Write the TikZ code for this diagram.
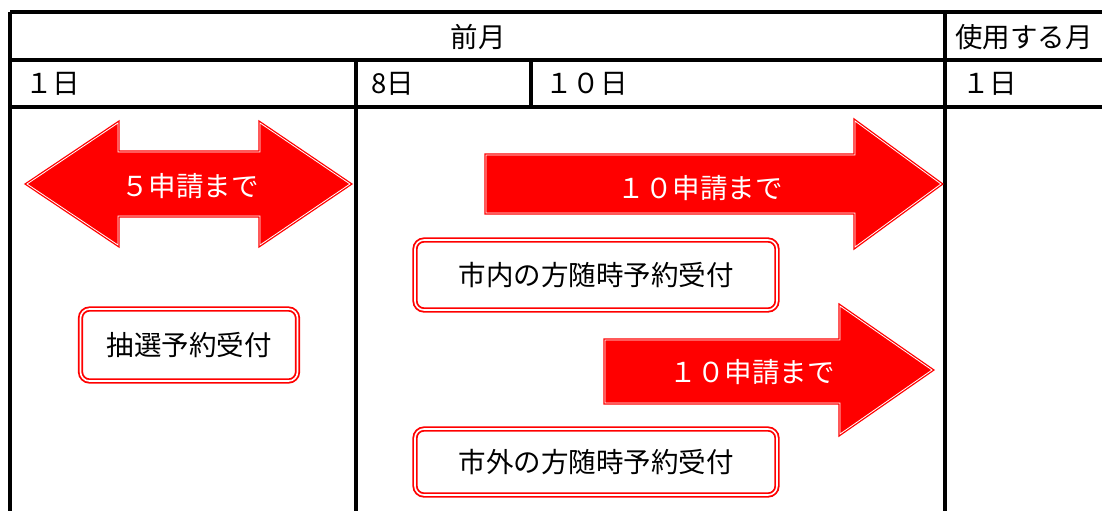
\documentclass[tikz,border=0pt]{standalone}
\usepackage{fontspec}
\setmainfont{Noto Sans CJK JP}
\usetikzlibrary{positioning}

\tikzset{
    tableline/.style={line width=3.2pt},
    redarrow/.style={fill=red, draw=red, double=white, double distance=0.8pt, line width=1.3pt},
    redbox/.style={draw=red, double=white, double distance=1.6pt, line width=1.8pt, rounded corners=9pt, fill=white, font=\fontsize{27.5}{30}\selectfont},
    celltext/.style={font=\fontsize{27.5}{30}\selectfont, inner sep=0pt},
    arrowtext/.style={font=\fontsize{27.5}{30}\selectfont, text=white, inner sep=0pt},
}

\begin{document}
\begin{tikzpicture}[x=1pt,y=-1pt]
    \useasboundingbox (0,0) rectangle (1102,511);

    % table
    \draw[tableline] (10,12) -- (1102,12);
    \draw[tableline] (10,60) -- (1102,60);
    \draw[tableline] (10,107) -- (1102,107);
    \draw[tableline] (10,12) -- (10,511);
    \draw[tableline] (356,60) -- (356,511);
    \draw[tableline] (531,60) -- (531,107);
    \draw[tableline] (945,12) -- (945,511);

    \node[celltext] (prev) at (478,37) {前月};
    \node[celltext,anchor=west] (use) at (955,37) {使用する月};
    \node[celltext,anchor=west] (d1) at (25,84) {１日};
    \node[celltext,anchor=west] (d8) at (371,84) {8日};
    \node[celltext,anchor=west] (d10) at (545,84) {１０日};
    \node[celltext,anchor=west] (u1) at (962,84) {１日};

    % arrows
    \draw[redarrow] (27,184) -- (118,123) -- (118,152) -- (260,152) -- (260,123) -- (350,184)
        -- (260,245) -- (260,216) -- (118,216) -- (118,245) -- cycle;
    \node[arrowtext] (lot) at (190,186) {５申請まで};

    \draw[redarrow] (486,155) -- (855,155) -- (855,121) -- (941,184) -- (855,247) -- (855,213)
        -- (486,213) -- cycle;
    \node[arrowtext] (inner) at (700,188) {１０申請まで};

    \draw[redarrow] (605,340) -- (840,340) -- (840,306) -- (932,370) -- (840,434) -- (840,403)
        -- (605,403) -- cycle;
    \node[arrowtext] (outer) at (752,372) {１０申請まで};

    % boxes
    \node[redbox,minimum width=362pt,minimum height=70pt] (innerbox) at (596,275) {市内の方随時予約受付};
    \node[redbox,minimum width=217pt,minimum height=72pt] (lotbox) at (189,345) {抽選予約受付};
    \node[redbox,minimum width=362pt,minimum height=66pt] (outerbox) at (596,462) {市外の方随時予約受付};
\end{tikzpicture}
\end{document}
